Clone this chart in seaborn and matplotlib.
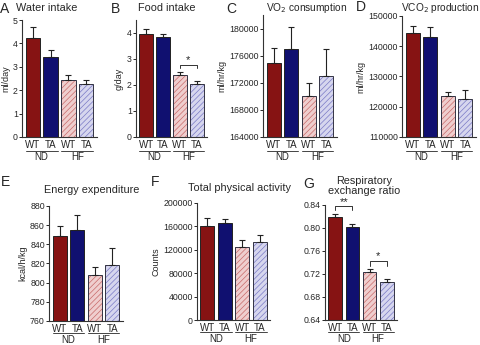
import matplotlib
matplotlib.use("Agg")
import matplotlib.pyplot as plt
from matplotlib.patches import Rectangle
import seaborn as sns
import pandas as pd
import numpy as np

# data
conds = ["ND WT", "ND TA", "HF WT", "HF TA"]
geno_labels = ["WT", "TA", "WT", "TA"]

water = [4.22, 3.40, 2.42, 2.27]
water_err = [0.50, 0.30, 0.21, 0.15]
food = [3.98, 3.84, 2.37, 2.03]
food_err = [0.17, 0.13, 0.13, 0.12]
vo2 = [174900, 177000, 170000, 173000]
vo2_err = [2300, 3300, 1950, 4000]
vco2 = [144300, 143200, 123400, 122700]
vco2_err = [2400, 3000, 1400, 2800]
energy = [849, 855, 808, 818]
energy_err = [10, 16, 8, 18]
activity = [160500, 166000, 125000, 133500]
activity_err = [14000, 6000, 11000, 12500]
rer = [0.820, 0.802, 0.724, 0.7065]
rer_err = [0.004, 0.005, 0.004, 0.0045]

fills = ["#990000", "#000080", "#f4c8c8", "#d2d2f2"]
hatch_cols = [None, None, "#c86a6a", "#7a7ac6"]

sns.set_theme(style="ticks")
plt.rcParams["font.family"] = ["Liberation Sans", "DejaVu Sans"]
plt.rcParams["hatch.linewidth"] = 0.5

W, H = 480, 345
fig = plt.figure(figsize=(4.8, 3.45), dpi=100)


def px_axes(left, right, top, bottom):
    return fig.add_axes([left / W, (H - bottom) / H, (right - left) / W, (bottom - top) / H])


def panel(rect, means, errs, ylim, yticks, ylabel, fmt=None, xpad=2, line_px=14, lab_px=20):
    ax = px_axes(*rect)
    h_px = rect[3] - rect[2]
    df = pd.DataFrame({"cond": conds, "value": means})
    sns.barplot(data=df, x="cond", y="value", hue="cond", palette=fills,
                order=conds, legend=False, errorbar=None, width=0.8,
                edgecolor="#222222", linewidth=0.7, ax=ax)
    for i, p in enumerate(ax.patches[:4]):
        if hatch_cols[i]:
            p.set_hatch("//////")
            p.set_edgecolor(hatch_cols[i])
            p.set_linewidth(0)
            ax.add_patch(Rectangle((p.get_x(), p.get_y()), p.get_width(), p.get_height(),
                                   fill=False, edgecolor="#333344", linewidth=0.7))
    ax.errorbar(np.arange(4), means, yerr=[np.zeros(4), errs], fmt="none",
                ecolor="#222222", elinewidth=0.8, capsize=2, capthick=0.8)
    ax.set_ylim(*ylim)
    ax.set_xlim(-0.6, 3.6)
    ax.set_yticks(yticks)
    if fmt:
        ax.set_yticklabels([fmt.format(t) for t in yticks])
    ax.set_xticks(range(4))
    ax.set_xticklabels(geno_labels)
    ax.tick_params(axis="x", length=0, pad=xpad, labelsize=7)
    ax.tick_params(axis="y", length=2, width=0.7, pad=1, labelsize=6.3)
    ax.set_xlabel("")
    ax.set_ylabel(ylabel, fontsize=6.5, labelpad=2)
    sns.despine(ax=ax)
    for s in ["left", "bottom"]:
        ax.spines[s].set_linewidth(0.8)
        ax.spines[s].set_color("#333333")
    tr = ax.get_xaxis_transform()
    for (a, b), lab in zip([(0, 1), (2, 3)], ["ND", "HF"]):
        ax.plot([a - 0.4, b + 0.4], [-line_px / h_px] * 2, color="#444444", lw=0.7,
                transform=tr, clip_on=False)
        ax.text((a + b) / 2, -lab_px / h_px, lab, transform=tr, ha="center",
                va="center", fontsize=7)
    return ax


def bracket(ax, x0, x1, y, drop, star, star_y):
    ax.plot([x0, x0, x1, x1], [y - drop, y, y, y - drop], color="#333333", lw=0.7, clip_on=False)
    ax.text((x0 + x1) / 2, star_y, star, ha="center", va="center", fontsize=8)


bottom_kw = dict(xpad=2, line_px=12, lab_px=19)

axA = panel((22, 97, 20, 137), water, water_err, (0, 5), range(0, 6), "ml/day")
axB = panel((136, 207, 20, 137), food, food_err, (0, 4.5), range(0, 5), "g/day")
axC = panel((263, 337, 15, 137), vo2, vo2_err, (164000, 182000),
            range(164000, 180001, 4000), "ml/hr/kg")
axD = panel((402, 476, 16, 137), vco2, vco2_err, (110000, 150000),
            range(110000, 150001, 10000), "ml/hr/kg")
axE = panel((49, 123, 206, 321), energy, energy_err, (760, 880),
            range(760, 881, 20), "kcal/h/kg", **bottom_kw)
axF = panel((197, 270, 203, 320), activity, activity_err, (0, 200000),
            range(0, 200001, 40000), "Counts", **bottom_kw)
axG = panel((325, 397, 205, 320), rer, rer_err, (0.64, 0.84),
            np.arange(0.64, 0.841, 0.04), "", fmt="{:.2f}", **bottom_kw)

bracket(axB, 2, 3, 2.78, 0.13, "*", 2.95)
bracket(axG, 0, 1, 0.8377, 0.006, "**", 0.845)
bracket(axG, 2, 3, 0.742, 0.008, "*", 0.752)


# titles and panel letters placed in figure pixels
def ftext(x, y, s, **kw):
    fig.text(x / W, 1 - y / H, s, **kw)


tkw = dict(ha="center", va="center", fontsize=7.8)
ftext(47, 8, "Water intake", **tkw)
ftext(167, 8, "Food intake", **tkw)
ftext(307, 8, r"VO$_2$ consumption", ha="center", va="center", fontsize=7.3)
ftext(440, 8, r"VCO$_2$ production", ha="center", va="center", fontsize=7.3)
ftext(92, 190, "Energy expenditure", **tkw)
ftext(240, 188, "Total physical activity", **tkw)
ftext(364, 186, "Respiratory\nexchange ratio", linespacing=1.1, **tkw)

lkw = dict(ha="left", va="center", fontsize=10)
ftext(0, 9, "A", **lkw)
ftext(111, 9, "B", **lkw)
ftext(226, 9, "C", **lkw)
ftext(356, 7, "D", **lkw)
ftext(1, 182, "E", **lkw)
ftext(151, 182, "F", **lkw)
ftext(303, 184, "G", **lkw)

fig.savefig("out.png", dpi=100)
